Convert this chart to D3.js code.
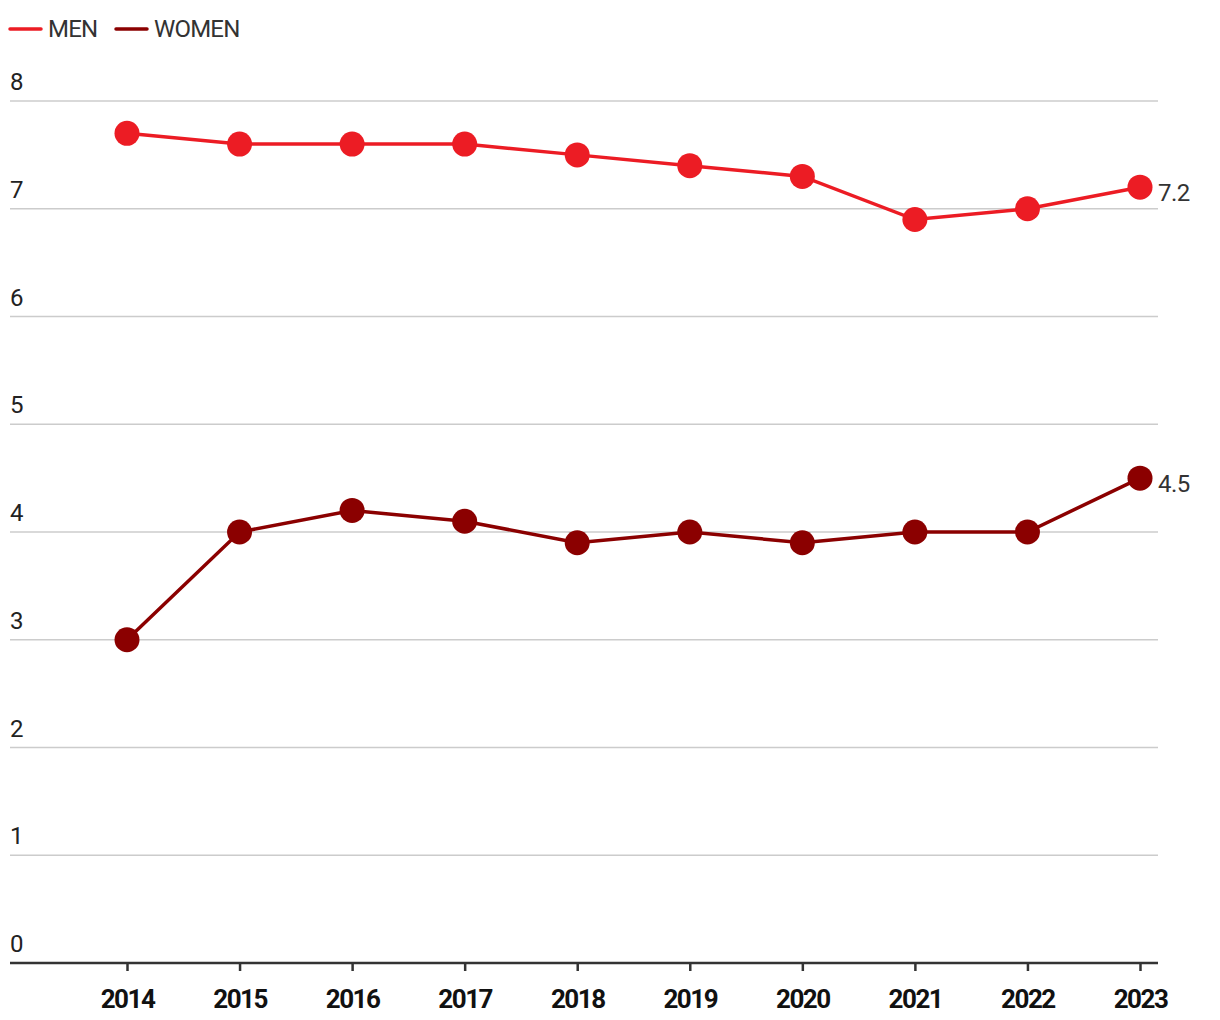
<!DOCTYPE html>
<html><head><meta charset="utf-8">
<script src="https://cdn.jsdelivr.net/npm/d3@7"></script>
<style>
body{margin:0;background:#fff;}
svg{display:block;font-family:Roboto, "Noto Sans", sans-serif;}
</style></head>
<body><svg id="c" width="1220" height="1020"></svg>
<script>
const years = [2014,2015,2016,2017,2018,2019,2020,2021,2022,2023];
const men = [7.7,7.6,7.6,7.6,7.5,7.4,7.3,6.9,7.0,7.2];
const women = [3.0,4.0,4.2,4.1,3.9,4.0,3.9,4.0,4.0,4.5];
const yTicks = [0,1,2,3,4,5,6,7,8];
const seriesNames = ["MEN","WOMEN"];
const colors = ["#ec1c24","#8b0000"];

const svg = d3.select("#c");
const x = d3.scaleLinear().domain([2014,2023]).range([127,1140]);
const y = d3.scaleLinear().domain([0,8]).range([963,101]);
const left = 10, right = 1158;

// gridlines
svg.append("g").selectAll("line").data(yTicks.filter(d=>d>0)).join("line")
  .attr("x1",left).attr("x2",right).attr("y1",d=>y(d)).attr("y2",d=>y(d))
  .attr("stroke","#cccccc").attr("stroke-width",1.5);
// y labels
svg.append("g").selectAll("text").data(yTicks).join("text")
  .attr("x",left).attr("y",d=>y(d)-11)
  .attr("font-size",24).attr("fill","#222").text(d=>d);

// x axis
const xAxis = d3.axisBottom(x).tickValues(years).tickFormat(d3.format("d")).tickSize(8).tickPadding(19);
const gx = svg.append("g").attr("transform",`translate(0,${y(0)})`).call(xAxis);
gx.select(".domain").remove();
gx.insert("line",":first-child").attr("x1",left).attr("x2",right).attr("y1",0).attr("y2",0)
  .attr("stroke","#333").attr("stroke-width",2.5);
gx.selectAll(".tick line").attr("stroke","#333").attr("stroke-width",2.5);
gx.selectAll(".tick text").attr("font-size",26).attr("font-weight","bold")
  .attr("letter-spacing","-1.5px").attr("fill","#111").attr("font-family","Roboto, sans-serif");

const line = d3.line().x((d,i)=>x(years[i])).y(d=>y(d));
[men,women].forEach((s,k)=>{
  svg.append("path").datum(s).attr("d",line).attr("fill","none")
    .attr("stroke",colors[k]).attr("stroke-width",3.5);
  svg.append("g").selectAll("circle").data(s).join("circle")
    .attr("cx",(d,i)=>x(years[i])).attr("cy",d=>y(d)).attr("r",12.5).attr("fill",colors[k]);
  const last = s[s.length-1];
  svg.append("text").attr("x",x(years[years.length-1])+18).attr("y",y(last)+14)
    .attr("font-size",24).attr("fill","#333").attr("letter-spacing","-0.5px").text(d3.format(".1f")(last));
});

// legend
const legX = [10,116];
seriesNames.forEach((n,k)=>{
  svg.append("line").attr("x1",legX[k]).attr("x2",legX[k]+31).attr("y1",29).attr("y2",29)
    .attr("stroke",colors[k]).attr("stroke-width",3.5).attr("stroke-linecap","round");
  svg.append("text").attr("x",legX[k]+38).attr("y",37).attr("font-size",24)
    .attr("letter-spacing","-0.8px").attr("fill","#333").text(n);
});
</script></body></html>
